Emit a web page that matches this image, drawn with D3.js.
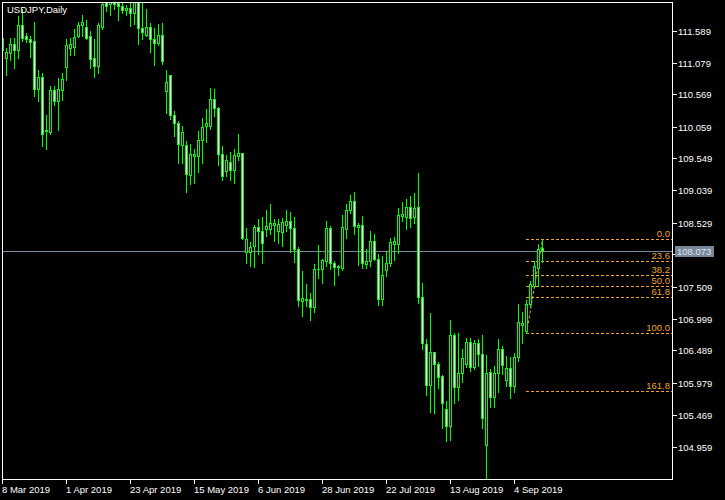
<!DOCTYPE html>
<html><head><meta charset="utf-8">
<script src="https://cdn.jsdelivr.net/npm/d3@7"></script>
<style>html,body{margin:0;padding:0;background:#000;}svg{display:block;}</style>
</head><body><svg id="c" width="725" height="500"></svg>
<script>
const open=[111.477,111.148,111.234,111.366,111.275,111.669,111.498,111.457,111.414,110.649,
110.851,110.011,109.968,110.638,110.462,110.638,111.010,111.313,111.329,111.509,
111.669,111.648,111.509,111.154,111.020,111.648,112.040,112.008,112.040,112.030,
111.976,111.912,111.951,111.871,112.040,111.632,111.525,111.648,111.446,111.382,
111.525,110.622,110.872,110.250,110.107,109.761,109.772,109.294,109.586,109.592,
109.841,110.064,110.064,110.500,110.357,109.613,109.342,109.493,109.363,109.592,
109.629,108.056,108.056,108.151,108.461,108.390,108.433,108.433,108.497,108.390,
108.375,108.486,108.545,108.438,108.110,107.275,107.313,107.302,107.186,107.791,
107.791,107.912,108.445,107.887,107.823,107.807,108.429,108.736,108.869,108.454,
108.497,107.860,107.912,108.231,107.951,107.302,107.769,107.876,108.190,108.190,
108.629,108.614,108.779,108.620,108.779,107.345,106.585,105.947,106.462,106.266,
106.080,105.549,105.283,106.744,105.911,106.123,106.277,106.628,106.229,106.612,
106.441,104.980,106.150,105.751,106.123,106.516,106.016,106.213,105.920,106.389,
106.899,106.797,107.238,107.514,107.807,108.115];
const high=[111.605,111.318,111.473,111.473,111.828,111.924,111.552,111.498,111.721,110.956,
110.915,110.250,110.712,110.712,110.835,110.904,111.457,111.473,111.605,111.721,
111.844,111.764,111.578,111.446,111.701,112.150,112.120,112.100,112.090,112.040,
112.030,112.003,112.040,112.060,112.150,112.040,111.924,111.701,111.632,111.685,
111.712,110.967,110.880,110.314,110.144,110.064,109.825,109.788,109.708,109.984,
110.202,110.330,110.676,110.649,110.373,109.745,109.597,109.645,109.704,109.932,
109.640,108.445,108.215,108.497,108.577,108.620,108.725,108.816,108.588,108.577,
108.604,108.736,108.693,108.620,108.142,107.753,107.541,107.409,107.860,108.163,
107.951,108.550,108.481,107.912,107.844,108.641,108.816,108.975,109.012,108.524,
108.629,108.110,108.390,108.338,108.019,107.992,108.072,108.285,108.295,108.763,
108.848,108.907,108.959,109.002,109.321,107.568,106.676,107.090,106.470,106.303,
106.091,105.692,106.983,106.771,106.771,106.505,106.696,106.691,106.653,106.665,
106.744,106.425,106.197,106.239,106.676,106.558,106.409,106.389,106.452,107.238,
107.106,107.286,107.594,107.923,108.194,108.269];
const low=[111.254,110.872,111.111,110.995,111.148,111.418,111.403,111.170,110.542,110.462,
109.745,109.708,109.947,110.394,110.011,110.489,110.808,111.206,111.206,111.489,
111.498,111.446,110.995,110.851,110.915,111.605,111.897,111.844,111.924,111.764,
111.871,111.844,111.658,111.685,111.366,111.446,111.498,111.243,111.047,111.350,
111.063,110.277,110.171,109.904,109.481,109.481,109.012,109.146,109.162,109.331,
109.485,109.809,110.022,110.234,109.453,109.214,109.278,109.210,109.155,109.533,
108.269,107.887,107.833,107.817,108.019,107.887,108.311,108.338,108.231,108.206,
108.151,108.390,108.056,107.896,107.206,107.036,107.195,106.983,107.100,107.648,
107.568,107.833,107.780,107.525,107.700,107.769,108.285,108.684,108.338,107.844,
107.807,107.807,107.833,107.928,107.211,107.222,107.684,107.833,107.939,108.035,
108.545,108.418,108.454,108.524,107.249,106.505,105.772,105.506,105.496,105.895,
105.257,105.044,105.060,105.656,105.697,105.984,106.223,106.159,106.202,106.239,
105.257,104.450,105.592,105.592,105.825,106.107,105.920,105.724,105.825,106.319,
106.612,106.771,107.179,107.504,107.514,107.903];
const close=[111.286,111.243,111.366,111.275,111.669,111.473,111.457,111.403,110.649,110.851,
109.943,109.984,110.638,110.462,110.649,110.819,111.350,111.366,111.489,111.669,
111.721,111.473,111.138,111.020,111.669,112.019,111.976,112.040,112.008,111.976,
111.912,111.951,111.871,112.040,111.632,111.568,111.648,111.446,111.393,111.525,
111.100,110.776,110.250,110.107,109.788,109.975,109.305,109.613,109.613,109.844,
110.059,110.118,110.500,110.357,109.613,109.278,109.533,109.369,109.597,109.629,
108.285,108.269,108.142,108.461,108.390,108.206,108.481,108.524,108.524,108.513,
108.534,108.545,108.438,108.110,107.297,107.329,107.291,107.186,107.791,107.780,
107.928,108.445,107.887,107.823,107.830,108.461,108.736,108.869,108.470,108.497,
107.876,107.912,108.231,107.951,107.302,107.700,107.876,108.215,108.231,108.641,
108.668,108.779,108.604,108.763,107.345,106.601,105.947,106.462,106.266,106.070,
105.656,105.283,106.744,105.911,106.123,106.373,106.628,106.229,106.612,106.437,
105.417,106.123,105.751,106.123,106.516,106.255,106.213,105.920,106.389,106.943,
106.931,107.238,107.552,107.833,108.099,108.073];

const xTickIdx=[0,16,32,48,64,80,96,112,128];
const xTickLabels=["8 Mar 2019","1 Apr 2019","23 Apr 2019","15 May 2019","6 Jun 2019","28 Jun 2019","22 Jul 2019","13 Aug 2019","4 Sep 2019"];
const yTicks=[111.589,111.079,110.569,110.059,109.549,109.039,108.529,108.019,107.509,106.999,106.489,105.979,105.469,104.959];
const yTickLabels=["111.589","111.079","110.569","110.059","109.549","109.039","108.529","108.019","107.509","106.999","106.489","105.979","105.469","104.959"];
const lastPrice=108.073;
const lastPriceLabel="108.073";
const fibLevels=[0,23.6,38.2,50,61.8,100,161.8];
const fibLabels=["0.0","23.6","38.2","50.0","61.8","100.0","161.8"];
const fibLowIdx=131, fibLowPrice=106.771, fibHighIdx=135, fibHighPrice=108.269;
const title="USDJPY,Daily";

const GREEN="#00ff00", FIB="#eea236", GREY="#778899";
const FONT="'Liberation Sans', Arial, sans-serif";
const svg=d3.select("#c");
svg.append("rect").attr("width",725).attr("height",500).attr("fill","#000");

const x=d3.scaleLinear().domain([0,1]).range([2,6]);
const y=d3.scaleLinear().domain([104.959,111.589]).range([447,31]);
const col=i=>Math.round(x(i));
const row=p=>Math.floor(y(p));

// frame
svg.append("rect").attr("x",2.5).attr("y",2.5).attr("width",670).attr("height",477)
  .attr("fill","none").attr("stroke","#fff").attr("stroke-width",1);

const defs=svg.append("defs");
defs.append("clipPath").attr("id","clip").append("rect").attr("x",3).attr("y",3).attr("width",669).attr("height",477);
const plot=svg.append("g").attr("clip-path","url(#clip)").attr("shape-rendering","crispEdges");

// current price line
plot.append("rect").attr("x",3).attr("y",row(lastPrice)).attr("width",669).attr("height",1).attr("fill",GREY);

// fib lines
const fibG=plot.append("g");
const fx0=col(fibLowIdx);
fibLevels.forEach((lv,k)=>{
  const p=fibHighPrice-(fibHighPrice-fibLowPrice)*lv/100;
  const r=row(p)+0.5;
  fibG.append("line").attr("x1",fx0).attr("x2",672).attr("y1",r).attr("y2",r)
    .attr("stroke",FIB).attr("stroke-width",1).attr("stroke-dasharray","3,2");
});
fibG.append("line").attr("x1",col(fibLowIdx)+0.5).attr("y1",y(fibLowPrice))
  .attr("x2",col(fibHighIdx)+0.5).attr("y2",y(fibHighPrice))
  .attr("stroke",FIB).attr("stroke-width",1).attr("stroke-dasharray","3,2").attr("shape-rendering","auto");

// candles
const idx=d3.range(open.length);
const cg=plot.append("g");
idx.forEach(i=>{
  const c=col(i);
  const hT=row(high[i]), hB=row(low[i]);
  cg.append("rect").attr("x",c).attr("y",hT).attr("width",1).attr("height",Math.max(1,hB-hT+1)).attr("fill",GREEN);
  const bT=row(Math.max(open[i],close[i])), bB=row(Math.min(open[i],close[i]));
  cg.append("rect").attr("x",c-1).attr("y",bT).attr("width",3).attr("height",Math.max(1,bB-bT+1)).attr("fill",GREEN);
  if(bB-bT>=2){
    cg.append("rect").attr("x",c).attr("y",bT+1).attr("width",1).attr("height",bB-bT-1)
      .attr("fill",close[i]>=open[i]?"#000":"#fff");
  }
});

// fib labels
fibLevels.forEach((lv,k)=>{
  const p=fibHighPrice-(fibHighPrice-fibLowPrice)*lv/100;
  svg.append("text").attr("x",670).attr("y",row(p)-2).attr("text-anchor","end")
    .attr("fill",FIB).attr("font-family",FONT).attr("font-size","9.5px").text(fibLabels[k]);
});

// y axis
const lr=row(lastPrice);
const ya=svg.append("g");
yTicks.forEach((v,k)=>{
  const r=row(v);
  ya.append("rect").attr("x",673).attr("y",r).attr("width",4).attr("height",1).attr("fill","#fff").attr("shape-rendering","crispEdges");
  // the label hidden behind the last-price box is not drawn
  if(Math.abs(r-lr)>8){
    ya.append("text").attr("x",678).attr("y",r+4).attr("fill","#fff").attr("font-family",FONT).attr("font-size","9.5px").text(yTickLabels[k]);
  }
});
// last price box
svg.append("rect").attr("x",675).attr("y",lr-5).attr("width",39).attr("height",11).attr("fill",GREY).attr("shape-rendering","crispEdges");
svg.append("text").attr("x",677).attr("y",lr+4).attr("fill","#dfe5ea").attr("font-family",FONT).attr("font-size","9.5px").text(lastPriceLabel);

// x axis
const xa=svg.append("g");
xTickIdx.forEach((t,k)=>{
  const c=col(t);
  xa.append("rect").attr("x",c).attr("y",480).attr("width",1).attr("height",4).attr("fill","#fff").attr("shape-rendering","crispEdges");
  xa.append("text").attr("x",c).attr("y",493).attr("fill","#fff").attr("font-family",FONT).attr("font-size","9.5px").text(xTickLabels[k]);
});

// title
svg.append("text").attr("x",7).attr("y",13).attr("fill","#fff").attr("font-family",FONT).attr("font-size","9.5px").text(title);
</script></body></html>
